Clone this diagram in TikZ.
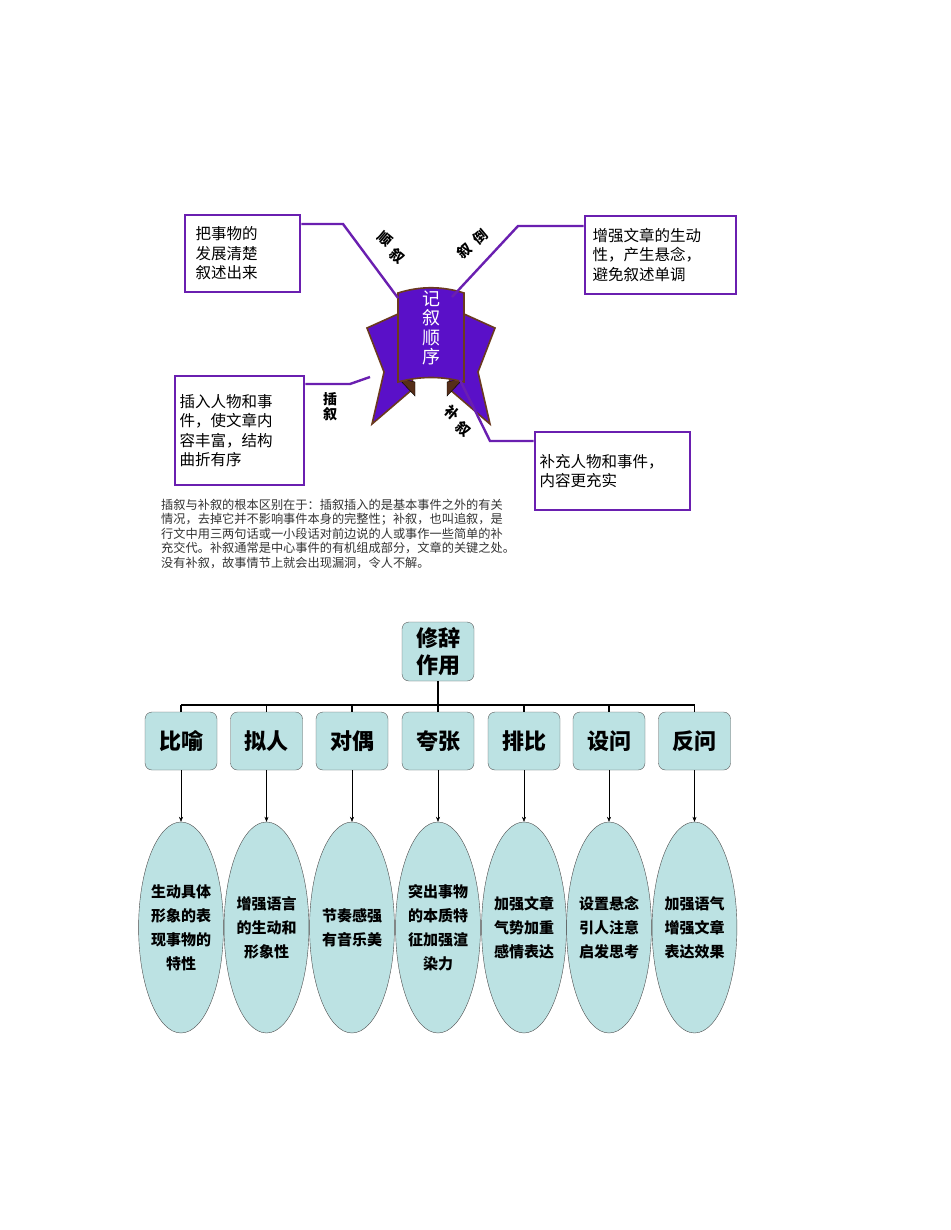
\documentclass[tikz,border=0pt]{standalone}
\usepackage{fontspec}
\setmainfont{Noto Sans CJK SC}
\usetikzlibrary{shapes.geometric,arrows.meta}
\definecolor{pur}{HTML}{6A1FB0}
\definecolor{ban}{HTML}{5A10C8}
\definecolor{brn}{HTML}{6B3A1F}
\definecolor{cy}{HTML}{BCE2E3}
\tikzset{
  pbox/.style={draw=pur,line width=2.6pt,minimum width=#1,inner sep=0pt,align=left,font=\fontsize{15.5}{19.5}\selectfont},
  plink/.style={draw=pur,line width=2.4pt},
  lbl/.style={font=\fontsize{14}{15}\selectfont\bfseries,inner sep=0pt},
  rbox/.style={draw=gray!70!black,fill=cy,rounded corners=7pt,minimum width=72pt,minimum height=58pt,font=\fontsize{22}{27}\selectfont\bfseries,align=center},
  ell/.style={ellipse,draw=gray!60!black,fill=cy,minimum width=78pt,minimum height=211pt,inner sep=0pt,align=center,font=\fontsize{15}{24}\selectfont\bfseries},
  arr/.style={-{Stealth[length=5pt,width=4pt]},thin}
}
\begin{document}
\begin{tikzpicture}[x=1pt,y=-1pt]
\fill[white] (0,0) rectangle (950,1230);
\useasboundingbox (0,0) rectangle (950,1230);
% boxes
\node[pbox=115pt,minimum height=77pt] (b1) at (242.5,253.5) {\hspace*{6pt}\parbox{100pt}{把事物的\\发展清楚\\叙述出来}};
\node[pbox=151pt,minimum height=78pt] (b2) at (660.5,255) {\hspace*{4pt}\parbox{140pt}{增强文章的生动\\性，产生悬念，\\避免叙述单调}};
\node[pbox=129pt,minimum height=109pt] (b3) at (239.5,430.5) {\hspace*{2pt}\parbox{122pt}{插入人物和事\\件，使文章内\\容丰富，结构\\曲折有序}};
\node[pbox=155pt,minimum height=78pt] (b4) at (612.5,471) {\hspace*{2pt}\parbox{148pt}{补充人物和事件，\\内容更充实}};
% banner
\filldraw[fill=ban,draw=brn,line width=1.6pt] (367,328) -- (398,314) -- (414,388) -- (372,424) -- (384,372) -- cycle;
\filldraw[fill=ban,draw=brn,line width=1.6pt] (495,328) -- (464,314) -- (448,388) -- (490,424) -- (478,372) -- cycle;
\filldraw[fill=brn!80!black] (398,378) -- (415,396) -- (415,382) -- cycle;
\filldraw[fill=brn!80!black] (464,378) -- (447,396) -- (447,382) -- cycle;
\filldraw[fill=ban,draw=brn,line width=1.6pt] (398,293) .. controls (420,286) and (442,286) .. (464,293) -- (464,382) .. controls (442,376) and (420,376) .. (398,382) -- cycle;
\node[font=\fontsize{18}{19.5}\selectfont,text=white,align=center,inner sep=0pt] (ban) at (431,328) {记\\叙\\顺\\序};
% links
\coordinate (c1) at (398,298);
\coordinate (c2) at (452,297);
\coordinate (c3) at (370,377);
\coordinate (c4) at (460,380);
\draw[plink] (b1.east|-0,224) -- (343,224) -- (c1);
\draw[plink] (b2.west|-0,226) -- (518,226) -- (c2);
\draw[plink] (b3.east|-0,384) -- (350,384) -- (c3);
\draw[plink] (c4) -- (490,441) -- (b4.west|-0,441);
% labels
\node[lbl,rotate=-40] (l1a) at (385,239) {顺};
\node[lbl,rotate=-40] (l1b) at (397,256) {叙};
\node[lbl,rotate=40] (l2a) at (464,251) {叙};
\node[lbl,rotate=40] (l2b) at (480,237) {倒};
\node[lbl,align=center] (l3) at (330,407) {插\\叙};
\node[lbl,rotate=-40] (l4a) at (452,413) {补};
\node[lbl,rotate=-40] (l4b) at (463,429) {叙};
% paragraph
\node[anchor=north west,inner sep=0pt,align=left,font=\fontsize{12.2}{14.4}\selectfont,text=black!80] (para) at (161,499) {插叙与补叙的根本区别在于：插叙插入的是基本事件之外的有关\\情况，去掉它并不影响事件本身的完整性；补叙，也叫追叙，是\\行文中用三两句话或一小段话对前边说的人或事作一些简单的补\\充交代。补叙通常是中心事件的有机组成部分，文章的关键之处。\\没有补叙，故事情节上就会出现漏洞，令人不解。};
% bottom
\node[rbox,minimum width=72pt,minimum height=59pt] (top) at (438,651.5) {修辞\\作用};
\coordinate (bus) at (438,705);
\foreach \i/\x/\t/\e in {1/181/比喻/{生动具体\\形象的表\\现事物的\\特性},2/266.5/拟人/{增强语言\\的生动和\\形象性},3/352/对偶/{节奏感强\\有音乐美},4/438/夸张/{突出事物\\的本质特\\征加强渲\\染力},5/524/排比/{加强文章\\气势加重\\感情表达},6/609/设问/{设置悬念\\引人注意\\启发思考},7/694.5/反问/{加强语气\\增强文章\\表达效果}}{
  \node[rbox] (k\i) at (\x,741) {\t};
  \node[ell] (e\i) at (\x,927.5) {\e};
  \draw[arr] (k\i) -- (e\i);
}
\draw[line width=1.6pt] (top) -- (bus);
\draw[line width=1.6pt] (k1.north|-bus) -- (k7.north|-bus);
\foreach \i in {1,...,7}{\draw[line width=1.2pt] (k\i.north|-bus) -- (k\i.north);}
\end{tikzpicture}
\end{document}
